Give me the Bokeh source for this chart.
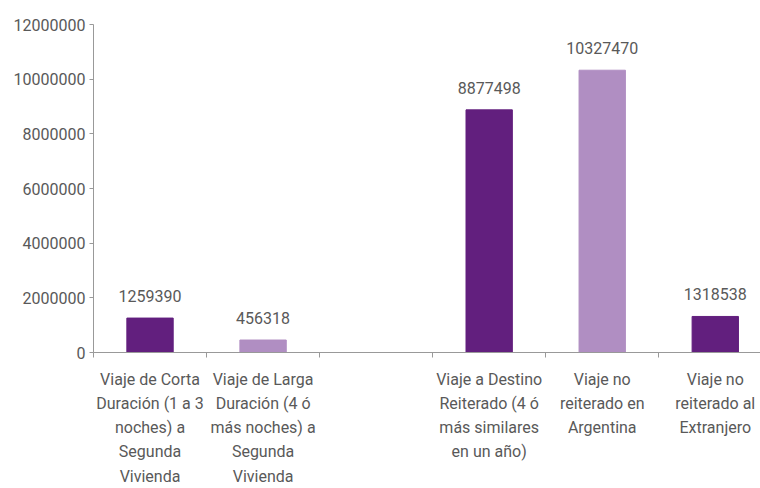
from bokeh.plotting import figure
from bokeh.models import Range1d, FixedTicker, ColumnDataSource
from bokeh.core.properties import value
from bokeh.embed import file_html
from bokeh.resources import INLINE

categories = [
    "Viaje de Corta\nDuración (1 a 3\nnoches) a\nSegunda\nVivienda",
    "Viaje de Larga\nDuración (4 ó\nmás noches) a\nSegunda\nVivienda",
    "",
    "Viaje a Destino\nReiterado (4 ó\nmás similares\nen un año)",
    "Viaje no\nreiterado en\nArgentina",
    "Viaje no\nreiterado al\nExtranjero",
]
values = [1259390, 456318, None, 8877498, 10327470, 1318538]
bar_colors = ["#621F7E", "#B08EC2", None, "#621F7E", "#B08EC2", "#621F7E"]
y_ticks = [0, 2000000, 4000000, 6000000, 8000000, 10000000, 12000000]

FONT = "Roboto"
TXT = "#595959"
AX = "#999999"

xs, tops, cols, labs = [], [], [], []
for i, v in enumerate(values):
    if v is None:
        continue
    xs.append(i + 0.5)
    tops.append(v)
    cols.append(bar_colors[i])
    labs.append(str(v))
src = ColumnDataSource(dict(x=xs, top=tops, color=cols, label=labs))

p = figure(width=760, height=488, output_backend="svg", toolbar_location=None,
           x_range=Range1d(0, 5.9), y_range=Range1d(0, 12000000),
           min_border_left=93, min_border_top=24, min_border_bottom=136,
           min_border_right=0)
p.outline_line_color = None
p.xgrid.grid_line_color = None
p.ygrid.grid_line_color = None

p.vbar(x="x", top="top", width=0.41, color="color", source=src)
p.text(x="x", y="top", text="label", source=src, text_align="center",
       text_baseline="bottom", y_offset=-16, text_font=value(FONT),
       text_font_size="16px", text_color=TXT)

# x axis
centers = [i + 0.5 for i in range(len(categories))]
p.xaxis.ticker = FixedTicker(ticks=centers, minor_ticks=list(range(len(categories) + 1)))
p.xaxis.major_label_overrides = {c: lab for c, lab in zip(centers, categories)}
p.xaxis.major_tick_line_color = None
p.xaxis.major_tick_in = 0
p.xaxis.major_tick_out = 0
p.xaxis.minor_tick_in = 0
p.xaxis.minor_tick_out = 5
p.xaxis.minor_tick_line_color = AX
p.xaxis.axis_line_color = AX
p.xaxis.major_label_text_font = FONT
p.xaxis.major_label_text_font_size = "16px"
p.xaxis.major_label_text_color = TXT
p.xaxis.major_label_text_line_height = 1.28
p.xaxis.major_label_standoff = 12

# y axis
p.yaxis.ticker = FixedTicker(ticks=y_ticks)
p.yaxis.formatter.use_scientific = False
p.yaxis.major_tick_in = 0
p.yaxis.major_tick_out = 4
p.yaxis.major_tick_line_color = AX
p.yaxis.minor_tick_line_color = None
p.yaxis.axis_line_color = AX
p.yaxis.major_label_text_font = FONT
p.yaxis.major_label_text_font_size = "16px"
p.yaxis.major_label_text_color = TXT
p.yaxis.major_label_standoff = 4

open("out.html", "w").write(file_html(p, INLINE))
